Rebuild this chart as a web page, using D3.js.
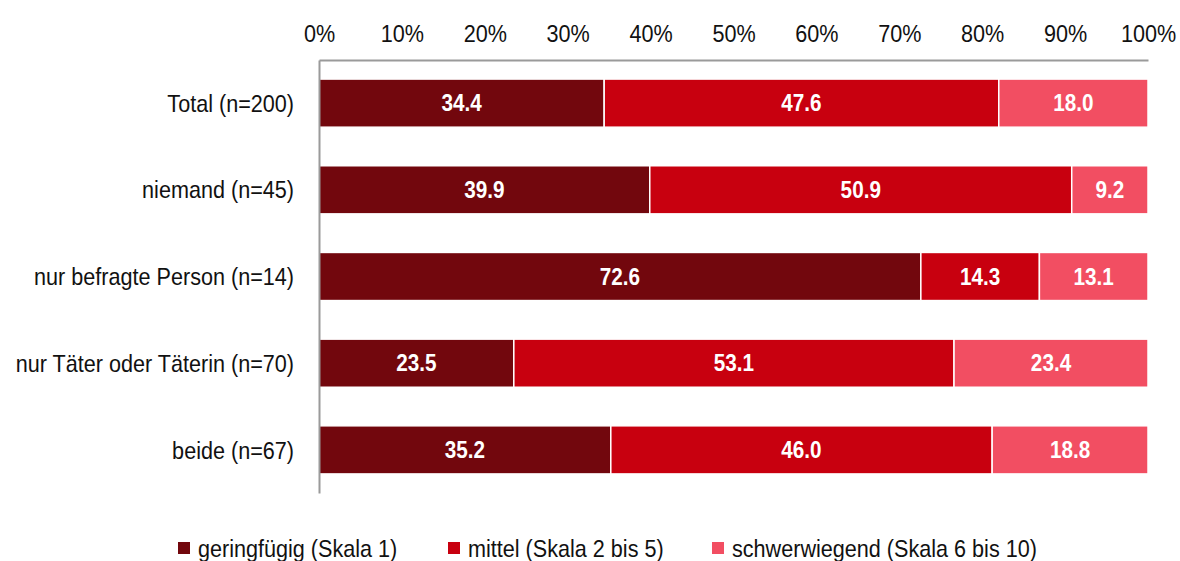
<!DOCTYPE html>
<html><head><meta charset="utf-8">
<script src="https://cdn.jsdelivr.net/npm/d3@7"></script>
<style>body{margin:0;background:#fff;} svg{display:block;}</style>
</head><body><svg id="c" width="1180" height="561"></svg>
<script>
const categories = ["Total (n=200)","niemand (n=45)","nur befragte Person (n=14)","nur Täter oder Täterin (n=70)","beide (n=67)"];
const seriesNames = ["geringfügig (Skala 1)","mittel (Skala 2 bis 5)","schwerwiegend (Skala 6 bis 10)"];
const geringfuegig = [34.4,39.9,72.6,23.5,35.2];
const mittel = [47.6,50.9,14.3,53.1,46.0];
const schwerwiegend = [18.0,9.2,13.1,23.4,18.8];
const tickValues = [0,10,20,30,40,50,60,70,80,90,100];
const colors = ["#72070D","#C8000F","#F24E62"];

const svg = d3.select("#c");
const font = "'Liberation Sans',Arial,sans-serif";
const SX = 0.9;
function condense(sel){
  sel.each(function(){
    const t=d3.select(this);
    const x=+t.attr("x")||0, y=+t.attr("y")||0;
    t.attr("x",0).attr("y",0).attr("transform",`translate(${x},${y}) scale(${SX},1)`);
  });
}
const x = d3.scaleLinear().domain([0,100]).range([319,1148]);
const y = d3.scaleBand().domain(categories).range([60,493]).paddingInner(0.445).paddingOuter(0.22);

const data = categories.map((c,i)=>({cat:c, v:[geringfuegig[i],mittel[i],schwerwiegend[i]]}));
const segs = [];
data.forEach(d=>{let acc=0; d.v.forEach((v,k)=>{segs.push({cat:d.cat,k,x0:acc,x1:acc+v,v}); acc+=v;});});

svg.append("g").selectAll("rect").data(segs).join("rect")
  .attr("x",d=>x(d.x0)).attr("width",d=>x(d.x1)-x(d.x0))
  .attr("y",d=>y(d.cat)).attr("height",y.bandwidth())
  .attr("fill",d=>colors[d.k]).attr("stroke","#fff").attr("stroke-width",1.5);

svg.append("g").selectAll("text").data(segs).join("text")
  .attr("x",d=>x((d.x0+d.x1)/2)).attr("y",d=>y(d.cat)+y.bandwidth()/2)
  .attr("dy","0.36em").attr("text-anchor","middle")
  .attr("fill","#fff").attr("font-weight","bold").attr("font-family",font).attr("font-size",23)
  .text(d=>d.v.toFixed(1)).call(condense);

// top axis
const xAxis = d3.axisTop(x).tickValues(tickValues).tickFormat(d=>d+"%").tickSize(0).tickPadding(0);
const gx = svg.append("g").attr("transform","translate(0,60)").call(xAxis);
gx.select(".domain").attr("stroke","#9a9a9a").attr("stroke-width",2);
gx.selectAll("text").attr("y",-27).attr("dy","0.36em").attr("font-family",font).attr("font-size",24).attr("fill","#111").call(condense);

// left axis
const yAxis = d3.axisLeft(y).tickSize(0).tickPadding(25);
const gy = svg.append("g").attr("transform","translate(319,0)").call(yAxis);
gy.select(".domain").attr("stroke","#9a9a9a").attr("stroke-width",2);
gy.selectAll("text").attr("font-family",font).attr("font-size",24).attr("fill","#111").attr("dy","0.36em").call(condense);

// legend
const legX = [178,448,712];
const lg = svg.append("g").selectAll("g").data(seriesNames).join("g")
  .attr("transform",(d,i)=>`translate(${legX[i]},548)`);
lg.append("rect").attr("x",0).attr("y",-6).attr("width",12).attr("height",12).attr("fill",(d,i)=>colors[i]);
lg.append("text").attr("x",20).attr("y",0).attr("dy","0.36em").attr("font-family",font).attr("font-size",24).attr("fill","#111").text(d=>d).call(condense);
</script></body></html>
